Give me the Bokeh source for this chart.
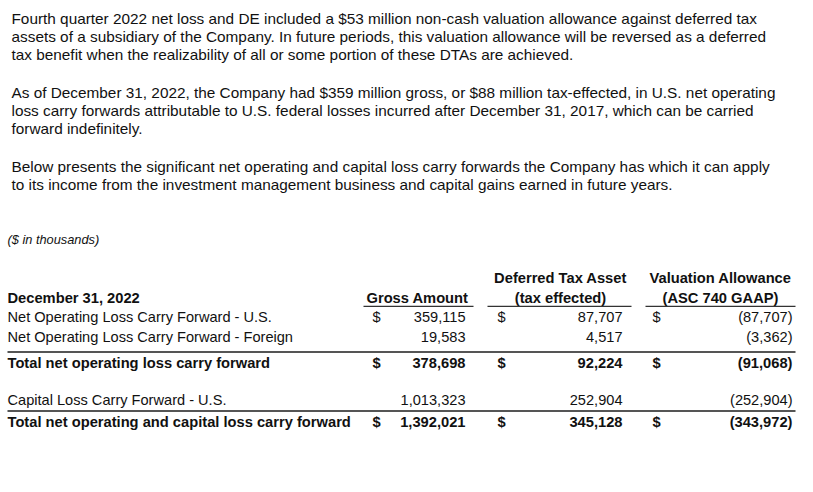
from bokeh.plotting import figure
from bokeh.models import Range1d
from bokeh.core.properties import value
from bokeh.embed import file_html
from bokeh.resources import INLINE

# ---------------- data ----------------
paragraphs = [
    ["Fourth quarter 2022 net loss and DE included a $53 million non-cash valuation allowance against deferred tax",
     "assets of a subsidiary of the Company. In future periods, this valuation allowance will be reversed as a deferred",
     "tax benefit when the realizability of all or some portion of these DTAs are achieved."],
    ["As of December 31, 2022, the Company had $359 million gross, or $88 million tax-effected, in U.S. net operating",
     "loss carry forwards attributable to U.S. federal losses incurred after December 31, 2017, which can be carried",
     "forward indefinitely."],
    ["Below presents the significant net operating and capital loss carry forwards the Company has which it can apply",
     "to its income from the investment management business and capital gains earned in future years."],
]
units_note = "($ in thousands)"
date_header = "December 31, 2022"
col_headers = [["", "Gross Amount"], ["Deferred Tax Asset", "(tax effected)"], ["Valuation Allowance", "(ASC 740 GAAP)"]]
row_labels = ["Net Operating Loss Carry Forward - U.S.",
              "Net Operating Loss Carry Forward - Foreign",
              "Total net operating loss carry forward",
              "Capital Loss Carry Forward - U.S.",
              "Total net operating and capital loss carry forward"]
gross = [359115, 19583, 378698, 1013323, 1392021]
dta = [87707, 4517, 92224, 252904, 345128]
val_allow = [-87707, -3362, -91068, -252904, -343972]
show_dollar = [True, False, True, False, True]
is_total = [False, False, True, False, True]

# ---------------- layout ----------------
FONT = "Liberation Sans"
FS = "14.6px"
BFS = "14.7px"
PFS = "15.35px"
TXT = "#111111"

def fmt(v):
    s = f"{abs(v):,}"
    return f"({s})" if v < 0 else s

p = figure(width=797, height=476, output_backend="svg", toolbar_location=None,
           x_range=Range1d(0, 797), y_range=Range1d(476, 0),
           min_border=0, x_axis_location=None, y_axis_location=None)
p.grid.visible = False
p.outline_line_color = None
p.background_fill_color = "white"
p.border_fill_color = "white"

# paragraphs
para_y = [[18.3, 35.8, 53.5], [91.7, 109.7, 127.7], [165.7, 184.0]]
px, py, pt = [], [], []
for lines, ys in zip(paragraphs, para_y):
    for t, y in zip(lines, ys):
        px.append(11); py.append(y); pt.append(t)
p.text(x=px, y=py, text=pt, text_font=value(FONT), text_font_size=PFS,
       text_color=TXT, text_baseline="middle", text_align="left")

p.text(x=[7], y=[238.5], text=[units_note], text_font=value(FONT), text_font_size="12.8px",
       text_font_style="italic", text_color=TXT, text_baseline="middle")

# headers
p.text(x=[7], y=[297], text=[date_header], text_font=value(FONT), text_font_size=BFS,
       text_font_style="bold", text_color=TXT, text_baseline="middle")
hdr_x = [468, 560, 720]
hdr_align = ["right", "center", "center"]
for (l1, l2), hx, al in zip(col_headers, hdr_x, hdr_align):
    p.text(x=[hx, hx], y=[277.5, 297], text=[l1, l2], text_font=value(FONT), text_font_size=BFS,
           text_font_style="bold", text_color=TXT, text_baseline="middle", text_align=al)
p.segment(x0=[363, 487, 645], y0=[305.8]*3, x1=[473, 631, 795], y1=[305.8]*3,
          line_color="#333333", line_width=1.2)

# rows
row_y = [316.7, 336.0, 362.7, 399.5, 421.7]
dollar_x = [372, 497, 652]
value_x = [465, 622, 792]
for i, y in enumerate(row_y):
    style = "bold" if is_total[i] else "normal"
    fs = BFS if is_total[i] else FS
    p.text(x=[7], y=[y], text=[row_labels[i]], text_font=value(FONT), text_font_size=fs,
           text_font_style=style, text_color=TXT, text_baseline="middle")
    vals = [fmt(gross[i]), fmt(dta[i]), fmt(val_allow[i])]
    p.text(x=value_x, y=[y]*3, text=vals, text_font=value(FONT), text_font_size=fs,
           text_font_style=style, text_color=TXT, text_baseline="middle", text_align="right")
    if show_dollar[i]:
        p.text(x=dollar_x, y=[y]*3, text=["$"]*3, text_font=value(FONT), text_font_size=fs,
               text_font_style=style, text_color=TXT, text_baseline="middle", text_align="left")

p.segment(x0=[7, 7], y0=[351.5, 410.5], x1=[795, 795], y1=[351.5, 410.5],
          line_color="#555555", line_width=2)

open("out.html", "w").write(file_html(p, INLINE))
